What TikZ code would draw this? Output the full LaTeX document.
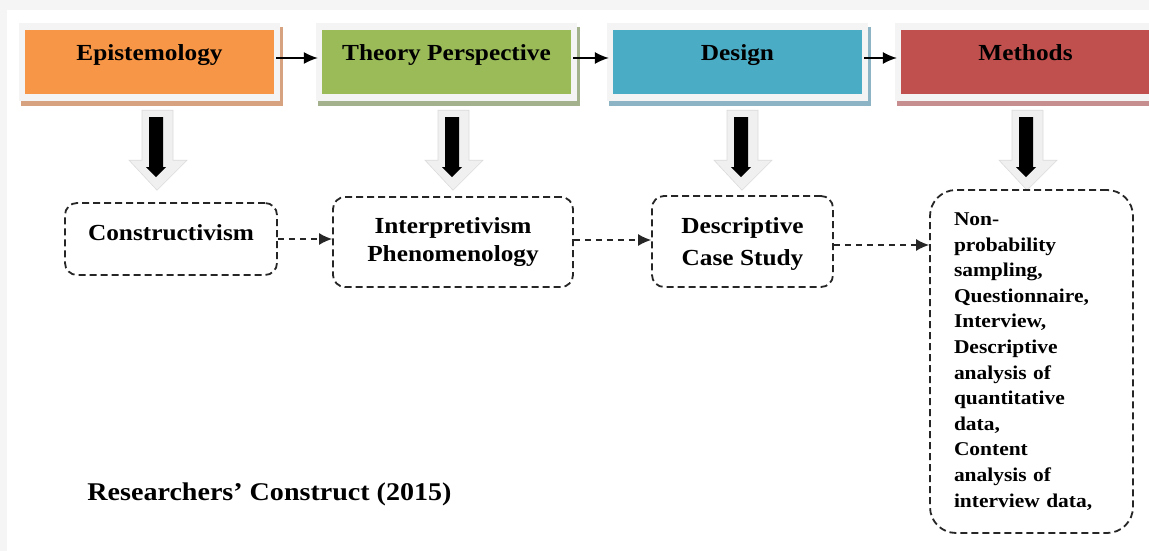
\documentclass[tikz,border=0pt]{standalone}
\usepackage{fontspec}
\setmainfont{Liberation Serif}[FakeStretch=1.1]
\usetikzlibrary{arrows.meta, backgrounds, calc}
\definecolor{epiorange}{HTML}{F79646}
\definecolor{theogreen}{HTML}{9BBB59}
\definecolor{desblue}{HTML}{4BACC6}
\definecolor{methred}{HTML}{C0504D}
\definecolor{shorange}{RGB}{214,162,128}
\definecolor{shgreen}{RGB}{163,178,140}
\definecolor{shblue}{RGB}{140,180,196}
\definecolor{shred}{RGB}{198,142,142}
\newcommand{\headtxt}{\fontsize{23pt}{28pt}\selectfont\bfseries}
\newcommand{\dashtxt}{\fontsize{23pt}{28pt}\selectfont\bfseries}
\newcommand{\destxt}{\fontsize{23pt}{32pt}\selectfont\bfseries}
\newcommand{\listtxt}{\fontsize{19.5pt}{25.6pt}\selectfont\bfseries}
\newcommand{\notetxt}{\fontsize{25.5pt}{30pt}\selectfont\bfseries}
\tikzset{
    >={Latex[length=14pt, width=12pt]},
    header/.style={rectangle, minimum width=249pt, minimum height=64pt, inner xsep=0pt,
        inner ysep=6pt, text height=25pt, text depth=27pt, font=\headtxt},
    flow/.style={->, line width=1.3pt, shorten <=2pt, shorten >=4pt},
    outcome/.style={draw=black!85, line width=1.8pt, dash pattern=on 7pt off 4pt,
        rounded corners=12pt, align=center, inner sep=0pt, font=\dashtxt},
    dflow/.style={-{Latex[length=13pt, width=12pt]}, black!85, line width=1.5pt,
        dash pattern=on 6pt off 5pt},
    pics/blockdown/.style={code={
        \filldraw[fill=gray!12, draw=gray!28, line width=0.6pt]
            (-15,0) -- (16,0) -- (16,50) -- (30,50) -- (0,80) -- (-28,50) -- (-15,50) -- cycle;
        \fill[black] (-8,7) -- (6,7) -- (6,57) -- (9,57) -- (-1,67) -- (-11,57) -- (-8,57) -- cycle;
    }},
}

\begin{document}
\begin{tikzpicture}[x=1pt, y=-1pt]
    \useasboundingbox (0,0) rectangle (1149,551);
    % top row
    \node[header, fill=epiorange] (epi) at (149.5,62) {Epistemology};
    \node[header, fill=theogreen] (theo) at (446.5,62) {Theory Perspective};
    \node[header, fill=desblue] (des) at (737.5,62) {Design};
    \node[header, fill=methred] (meth) at (1025.5,62) {Methods};
    \foreach \a/\b in {epi/theo, theo/des, des/meth}
        \draw[flow] ([yshift=4pt]\a.east) -- ([yshift=4pt]\b.west);
    \foreach \n/\dx in {epi/7.5, theo/6.5, des/4.5, meth/1.5}
        \pic at ([xshift=\dx pt, yshift=-16pt]\n.south) {blockdown};
    % second row
    \node[outcome, minimum width=212pt, minimum height=72pt, text height=16pt, text depth=14pt]
        (con) at (171,239) {Constructivism};
    \node[outcome, minimum width=240pt, minimum height=90pt] (int) at (453,242)
        {Interpretivism\\Phenomenology};
    \node[outcome, minimum width=181pt, minimum height=91pt, font=\destxt, text depth=0pt]
        (study) at (742.5,241.5) {Descriptive\\Case Study};
    \node[outcome, rounded corners=26pt, minimum width=203pt, minimum height=343pt, text width=155pt,
        align=left, inner xsep=24pt, font=\listtxt] (tools) at (1031.5,361.5)
        {Non-\\probability\\sampling,\\Questionnaire,\\Interview,\\Descriptive\\analysis of\\quantitative\\data,\\Content\\analysis of\\interview data,};
    \draw[dflow] (con.east) -- (con.east -| int.west);
    \draw[dflow] ([yshift=2pt]int.east) -- ([yshift=2pt]int.east -| study.west);
    \draw[dflow] ([yshift=-3.5pt]study.east) -- ([yshift=-3.5pt]study.east -| tools.west);
    \node[font=\notetxt] (credit) at (269.5,494) {Researchers’ Construct (2015)};
    \begin{scope}[on background layer]
        \fill[gray!8] (0,0) rectangle (1149,551);
        \fill[white] (7,10) rectangle (1149,551);
        \foreach \n/\c in {epi/shorange, theo/shgreen, des/shblue, meth/shred} {
            \fill[\c] ([shift={(-4,-3)}]\n.north west) rectangle ([shift={(8.5,12)}]\n.south east);
            \fill[gray!9] ([shift={(-6,-7)}]\n.north west) rectangle ([shift={(6,7)}]\n.south east);
        }
    \end{scope}
\end{tikzpicture}
\end{document}
